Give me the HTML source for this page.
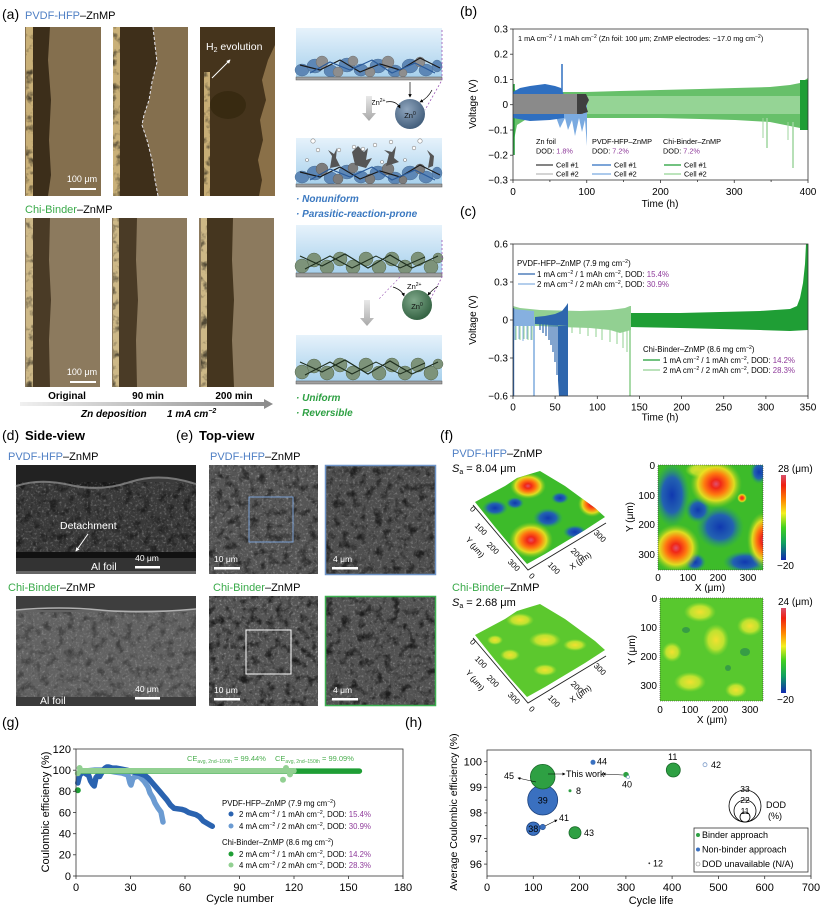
<!DOCTYPE html>
<html><head><meta charset="utf-8">
<style>
html,body{margin:0;padding:0;background:#fff;}
svg{display:block;font-family:"Liberation Sans",Arial,sans-serif;}
</style></head><body>
<svg width="831" height="919" viewBox="0 0 831 919" xmlns="http://www.w3.org/2000/svg">
<defs>
 <filter id="wsp" x="0" y="0" width="1" height="1" color-interpolation-filters="sRGB">
  <feTurbulence type="fractalNoise" baseFrequency="0.45" numOctaves="2" seed="4"/>
  <feColorMatrix type="matrix" values="0 0 0 0 1  0 0 0 0 1  0 0 0 0 1  2.6 0 0 0 -1.35"/>
 </filter>
 <filter id="bsp" x="0" y="0" width="1" height="1" color-interpolation-filters="sRGB">
  <feTurbulence type="fractalNoise" baseFrequency="0.12" numOctaves="3" seed="9"/>
  <feColorMatrix type="matrix" values="0 0 0 0 0  0 0 0 0 0  0 0 0 0 0  -3 0 0 0 1.55"/>
 </filter>
 <linearGradient id="sky" x1="0" y1="0" x2="0" y2="1"><stop offset="0" stop-color="#e6f2fb"/><stop offset="1" stop-color="#a6d0ec"/></linearGradient>
 <linearGradient id="garr" x1="0" y1="0" x2="1" y2="0"><stop offset="0" stop-color="#f0f0f0"/><stop offset="1" stop-color="#8a8a8a"/></linearGradient>
 <linearGradient id="varr" x1="0" y1="0" x2="0" y2="1"><stop offset="0" stop-color="#e8e8e8"/><stop offset="1" stop-color="#a8a8a8"/></linearGradient>
 <radialGradient id="zb" cx="0.4" cy="0.35" r="0.7"><stop offset="0" stop-color="#8fa5bd"/><stop offset="1" stop-color="#3e5a78"/></radialGradient>
 <radialGradient id="zg" cx="0.4" cy="0.35" r="0.7"><stop offset="0" stop-color="#7fa88a"/><stop offset="1" stop-color="#2f5e3e"/></radialGradient>
 <linearGradient id="cbar" x1="0" y1="0" x2="0" y2="1">
  <stop offset="0" stop-color="#d8506a"/><stop offset="0.12" stop-color="#f02010"/><stop offset="0.3" stop-color="#ff8a00"/><stop offset="0.45" stop-color="#f4f020"/><stop offset="0.62" stop-color="#40d020"/><stop offset="0.8" stop-color="#10a060"/><stop offset="1" stop-color="#1028b0"/>
 </linearGradient>
 <radialGradient id="hot"><stop offset="0" stop-color="#e05070"/><stop offset="0.18" stop-color="#f02818"/><stop offset="0.45" stop-color="#ff7a10"/><stop offset="0.7" stop-color="#f0e020" stop-opacity="0.9"/><stop offset="1" stop-color="#80d020" stop-opacity="0"/></radialGradient>
 <radialGradient id="cold"><stop offset="0" stop-color="#1038b0"/><stop offset="0.55" stop-color="#2058c0" stop-opacity="0.9"/><stop offset="1" stop-color="#20a070" stop-opacity="0"/></radialGradient>
 <radialGradient id="warm"><stop offset="0" stop-color="#f4e030"/><stop offset="0.6" stop-color="#d8e830" stop-opacity="0.8"/><stop offset="1" stop-color="#a0e030" stop-opacity="0"/></radialGradient>
 <clipPath id="hm1"><rect x="658" y="465" width="105" height="105"/></clipPath>
 <clipPath id="hm2"><rect x="660" y="598" width="103" height="103"/></clipPath>
 <clipPath id="s1"><polygon points="475,502 490,494 505,486 517,478 530,474 540,471 550,477 565,486 580,497 595,508 605,517 585,530 565,542 545,554 527,564 510,545 495,527 483,512"/></clipPath>
 <clipPath id="s2"><polygon points="475,635 490,627 505,619 517,611 530,607 540,604 550,610 565,619 580,630 595,641 605,650 585,663 565,675 545,687 527,697 510,678 495,660 483,645"/></clipPath>
 <marker id="ah" viewBox="0 0 6 6" refX="5" refY="3" markerWidth="5" markerHeight="5" orient="auto"><path d="M0,0 L6,3 L0,6Z" fill="#000"/></marker>
 <marker id="ahw" viewBox="0 0 6 6" refX="5" refY="3" markerWidth="4" markerHeight="4" orient="auto"><path d="M0,0 L6,3 L0,6Z" fill="#fff"/></marker>
</defs>

<!-- ================= (a) ================= -->
<text x="2" y="19" font-size="14">(a)</text>
<text x="25" y="19" font-size="11"><tspan fill="#4f7fc4">PVDF-HFP</tspan>–ZnMP</text>

<rect x="25" y="27" width="76" height="169" fill="#846f4e"/>
<path d="M32,27 L50,27 L48,60 L51,100 L49,140 L51,175 L48,196 L32,196Z" fill="#3c2e1a"/>
<rect x="26" y="27" width="7" height="169" fill="#c9b078"/>
<rect x="26" y="27" width="7" height="169" filter="url(#bsp)" opacity="0.6"/>
<text x="82" y="182" font-size="9" fill="#fff" text-anchor="middle">100 μm</text>
<rect x="70" y="188" width="26" height="2" fill="#fff"/>
<rect x="113" y="27" width="75" height="169" fill="#846f4e"/>
<path d="M119,27 L153,27 L155,45 L157,62 L152,82 L149,100 L144,115 L142,125 L147,140 L152,160 L155,180 L158,196 L119,196Z" fill="#3e2f1a"/>
<path d="M153,27 L155,45 L157,62 L152,82 L149,100 L144,115 L142,125 L147,140 L152,160 L155,180 L158,196" fill="none" stroke="#e8e8f0" stroke-width="1" stroke-dasharray="3,2"/>
<rect x="113" y="27" width="7" height="169" fill="#c9b078"/>
<rect x="113" y="27" width="7" height="169" filter="url(#bsp)" opacity="0.6"/>
<rect x="200" y="27" width="75" height="169" fill="#8a7048"/>
<path d="M200,27 L275,27 L275,45 L268,60 L262,80 L266,100 L260,120 L263,140 L258,160 L262,180 L259,196 L200,196Z" fill="#45341c"/>
<ellipse cx="228" cy="105" rx="18" ry="14" fill="#35280f" opacity="0.8"/>
<rect x="204" y="72" width="6" height="124" fill="#c8ae76"/>
<rect x="204" y="72" width="6" height="124" filter="url(#bsp)" opacity="0.6"/>
<text x="206" y="50" font-size="10.5" fill="#fff">H<tspan font-size="7" dy="2">2</tspan><tspan dy="-2"> evolution</tspan></text>
<line x1="212" y1="78" x2="230" y2="60" stroke="#fff" stroke-width="1" marker-end="url(#ahw)"/>

<text x="25" y="213" font-size="11"><tspan fill="#3aaa4a">Chi-Binder</tspan>–ZnMP</text>
<rect x="25" y="218" width="75" height="169" fill="#8c7a5e"/>
<path d="M32,218 L50,218 L49,260 L51,300 L49,340 L50,387 L32,387Z" fill="#4a3b26"/>
<rect x="26" y="218" width="7" height="169" fill="#cdb887"/>
<rect x="26" y="218" width="7" height="169" filter="url(#bsp)" opacity="0.6"/>
<text x="82" y="375" font-size="9" fill="#fff" text-anchor="middle">100 μm</text>
<rect x="70" y="381" width="26" height="2" fill="#fff"/>
<rect x="112" y="218" width="75" height="169" fill="#8c7a5e"/>
<path d="M118,218 L137,218 L136,260 L138,300 L136,340 L137,387 L118,387Z" fill="#4a3b26"/>
<rect x="113" y="218" width="6" height="169" fill="#cdb887"/>
<rect x="113" y="218" width="6" height="169" filter="url(#bsp)" opacity="0.6"/>
<rect x="199" y="218" width="75" height="169" fill="#8c7a5e"/>
<path d="M206,218 L233,218 L232,260 L234,300 L232,340 L234,387 L206,387Z" fill="#45361f"/>
<rect x="201" y="218" width="6" height="169" fill="#cdb887"/>
<rect x="201" y="218" width="6" height="169" filter="url(#bsp)" opacity="0.6"/>

<text x="67" y="399" font-size="10" font-weight="bold" text-anchor="middle">Original</text>
<text x="148" y="399" font-size="10" font-weight="bold" text-anchor="middle">90 min</text>
<text x="234" y="399" font-size="10" font-weight="bold" text-anchor="middle">200 min</text>
<polygon points="20,402 264,402 264,399 273,404 264,409 264,406 20,406" fill="url(#garr)"/>
<text x="81" y="417" font-size="10" font-weight="bold" font-style="italic">Zn deposition</text>
<text x="167" y="417" font-size="10" font-weight="bold" font-style="italic">1 mA cm<tspan font-size="7" dy="-4">−2</tspan></text>

<!-- schematic box1 -->
<rect x="296" y="28" width="146" height="50" fill="url(#sky)"/>
<g fill="#5d87b6" stroke="#46698f" stroke-width="0.4">
<ellipse cx="302" cy="70" rx="7" ry="6"/><ellipse cx="315" cy="66" rx="8" ry="7"/><ellipse cx="331" cy="71" rx="7" ry="6"/><ellipse cx="347" cy="65" rx="8" ry="7"/><ellipse cx="361" cy="70" rx="7" ry="6"/><ellipse cx="378" cy="66" rx="8" ry="7"/><ellipse cx="395" cy="71" rx="7" ry="6"/><ellipse cx="410" cy="66" rx="8" ry="7"/><ellipse cx="426" cy="70" rx="7" ry="6"/><ellipse cx="437" cy="66" rx="5" ry="6"/></g>
<g fill="#8e8e8e" stroke="#666" stroke-width="0.4">
<circle cx="322" cy="62" r="6"/><circle cx="338" cy="72" r="5"/><circle cx="353" cy="61" r="5"/><circle cx="370" cy="72" r="5"/><circle cx="388" cy="62" r="6"/><circle cx="403" cy="73" r="4"/><circle cx="420" cy="62" r="5"/></g>
<polyline points="300,65 320,70 340,60 360,72 380,64 400,70 420,58 440,68" fill="none" stroke="#1a1a1a" stroke-width="1.2"/>
<polyline points="310,73 330,62 350,70 372,60 392,73 415,63 435,73" fill="none" stroke="#2a5a9a" stroke-width="1.2"/>
<rect x="296" y="77" width="146" height="3" fill="#a0a0a0" stroke="#555" stroke-width="0.5"/>
<path d="M442,30 L442,80 L425,110" fill="none" stroke="#9b59b6" stroke-width="0.8" stroke-dasharray="2,2"/>
<circle cx="410" cy="114" r="15" fill="url(#zb)"/>
<text x="410" y="118" font-size="7.5" text-anchor="middle" fill="#111">Zn<tspan font-size="5" dy="-3">0</tspan></text>
<text x="371" y="105" font-size="7.5">Zn<tspan font-size="5" dy="-3">2+</tspan></text>
<path d="M386,102 Q396,100 400,108" fill="none" stroke="#000" stroke-width="0.7" marker-end="url(#ah)"/>
<line x1="410" y1="82" x2="410" y2="97" stroke="#000" stroke-width="0.7" marker-end="url(#ah)"/>
<path d="M432,90 Q428,98 420,102" fill="none" stroke="#000" stroke-width="0.7" marker-end="url(#ah)"/>
<polygon points="366,96 372,96 372,113 376,113 369,121 362,113 366,113" fill="url(#varr)"/>

<!-- box2 -->
<rect x="296" y="138" width="146" height="47" fill="url(#sky)"/>
<g fill="#5d87b6" stroke="#46698f" stroke-width="0.4">
<ellipse cx="302" cy="177" rx="7" ry="6"/><ellipse cx="315" cy="173" rx="8" ry="7"/><ellipse cx="331" cy="178" rx="7" ry="6"/><ellipse cx="347" cy="172" rx="8" ry="7"/><ellipse cx="361" cy="177" rx="7" ry="6"/><ellipse cx="378" cy="173" rx="8" ry="7"/><ellipse cx="395" cy="178" rx="7" ry="6"/><ellipse cx="410" cy="173" rx="8" ry="7"/><ellipse cx="426" cy="177" rx="7" ry="6"/><ellipse cx="437" cy="173" rx="5" ry="6"/></g>
<g fill="#7c7c7c" stroke="#555" stroke-width="0.4">
<circle cx="322" cy="169" r="6"/><circle cx="338" cy="179" r="5"/><circle cx="353" cy="168" r="5"/><circle cx="370" cy="179" r="5"/><circle cx="388" cy="169" r="6"/><circle cx="403" cy="180" r="4"/><circle cx="420" cy="169" r="5"/></g>
<g fill="#555">
<path d="M330,168 L332,156 L328,150 L334,154 L337,148 L336,158 L340,166Z"/>
<path d="M355,165 L352,152 L358,146 L364,152 L368,148 L366,160 L372,158 L366,168Z"/>
<path d="M386,166 L389,154 L384,150 L392,152 L396,146 L394,158 L399,162Z"/>
<path d="M428,168 L430,156 L427,150 L434,156 L433,166Z"/></g>
<polyline points="300,172 320,177 340,167 360,179 380,171 400,177 420,165 440,175" fill="none" stroke="#1a1a1a" stroke-width="1.2"/>
<polyline points="310,180 330,169 350,177 372,167 392,180 415,170 435,180" fill="none" stroke="#2a5a9a" stroke-width="1.2"/>
<g fill="#fff" stroke="#888" stroke-width="0.6">
<circle cx="313" cy="141" r="2.2"/><circle cx="318" cy="150" r="1.8"/><circle cx="339" cy="150" r="1.8"/><circle cx="354" cy="147" r="1.8"/><circle cx="363" cy="149" r="1.8"/><circle cx="375" cy="145" r="1.8"/><circle cx="391" cy="142" r="1.8"/><circle cx="420" cy="141" r="2.2"/><circle cx="414" cy="148" r="1.8"/><circle cx="307" cy="160" r="1.5"/><circle cx="382" cy="162" r="1.5"/><circle cx="405" cy="160" r="1.5"/></g>
<rect x="296" y="184" width="146" height="3" fill="#a0a0a0" stroke="#555" stroke-width="0.5"/>
<text x="296" y="202" font-size="10" font-weight="bold" font-style="italic" fill="#3a78c0">· Nonuniform</text>
<text x="296" y="217" font-size="10" font-weight="bold" font-style="italic" fill="#3a78c0">· Parasitic-reaction-prone</text>

<!-- box3 -->
<rect x="296" y="225" width="146" height="49" fill="url(#sky)"/>
<g fill="#7d937a" stroke="#56684f" stroke-width="0.5">
<circle cx="302" cy="266" r="7"/><circle cx="314" cy="260" r="7"/><circle cx="327" cy="267" r="7"/><circle cx="340" cy="259" r="7"/><circle cx="353" cy="267" r="7"/><circle cx="366" cy="259" r="7"/><circle cx="379" cy="267" r="7"/><circle cx="392" cy="259" r="7"/><circle cx="405" cy="267" r="7"/><circle cx="418" cy="259" r="7"/><circle cx="431" cy="267" r="7"/><circle cx="438" cy="258" r="5"/></g>
<polyline points="300,256 322,266 345,254 368,268 390,255 412,268 438,256" fill="none" stroke="#1e2e1e" stroke-width="1.2"/>
<polyline points="305,269 330,256 352,268 376,256 400,268 425,257" fill="none" stroke="#1e2e1e" stroke-width="1"/>
<rect x="296" y="273" width="146" height="4" fill="#a0a0a0" stroke="#555" stroke-width="0.5"/>
<path d="M442,240 L442,277 L430,300" fill="none" stroke="#9b59b6" stroke-width="0.8" stroke-dasharray="2,2"/>
<line x1="400" y1="277" x2="378" y2="300" stroke="#9b59b6" stroke-width="0.6" stroke-dasharray="2,2"/>
<circle cx="417" cy="305" r="15" fill="url(#zg)"/>
<text x="417" y="309" font-size="7.5" text-anchor="middle" fill="#111">Zn<tspan font-size="5" dy="-3">0</tspan></text>
<text x="407" y="289" font-size="7.5">Zn<tspan font-size="5" dy="-3">2+</tspan></text>
<path d="M393,287 Q402,290 404,296" fill="none" stroke="#000" stroke-width="0.7" marker-end="url(#ah)"/>
<path d="M438,286 Q432,290 428,295" fill="none" stroke="#000" stroke-width="0.7" marker-end="url(#ah)"/>
<polygon points="364,300 370,300 370,318 374,318 367,326 360,318 364,318" fill="url(#varr)"/>

<!-- box4 -->
<rect x="296" y="335" width="146" height="47" fill="url(#sky)"/>
<g fill="#7d937a" stroke="#56684f" stroke-width="0.5">
<circle cx="302" cy="372" r="7"/><circle cx="314" cy="366" r="7"/><circle cx="327" cy="373" r="7"/><circle cx="340" cy="365" r="7"/><circle cx="353" cy="373" r="7"/><circle cx="366" cy="365" r="7"/><circle cx="379" cy="373" r="7"/><circle cx="392" cy="365" r="7"/><circle cx="405" cy="373" r="7"/><circle cx="418" cy="365" r="7"/><circle cx="431" cy="373" r="7"/><circle cx="438" cy="364" r="5"/></g>
<polyline points="300,362 322,372 345,360 368,374 390,361 412,374 438,362" fill="none" stroke="#1e2e1e" stroke-width="1.2"/>
<polyline points="305,375 330,362 352,374 376,362 400,374 425,363" fill="none" stroke="#1e2e1e" stroke-width="1"/>
<rect x="296" y="381" width="146" height="3" fill="#a0a0a0" stroke="#555" stroke-width="0.5"/>
<text x="296" y="401" font-size="10" font-weight="bold" font-style="italic" fill="#2ea043">· Uniform</text>
<text x="296" y="416" font-size="10" font-weight="bold" font-style="italic" fill="#2ea043">· Reversible</text>

<!-- ================= (b) ================= -->
<text x="460" y="16" font-size="14">(b)</text>
<polygon points="513,84 515,90 520,92 530,92 586,92 620,91 660,90 700,89 735,88 770,87 790,85 800,83 808,78 808,130 800,128 790,126 770,122 735,120 700,119 660,118 620,118 586,118 540,118 525,120 517,125 514,140 513,150" fill="#67c06a"/>
<rect x="513" y="96" width="295" height="18" fill="#95d495"/>
<rect x="800" y="80" width="8" height="50" fill="#1f9e35"/>
<line x1="514" y1="84" x2="514" y2="155" stroke="#1f9e35" stroke-width="1.5"/>
<line x1="767" y1="118" x2="767" y2="148" stroke="#9fd69f" stroke-width="1.5"/>
<line x1="763" y1="118" x2="763" y2="138" stroke="#9fd69f" stroke-width="1"/>
<line x1="793" y1="122" x2="793" y2="168" stroke="#9fd69f" stroke-width="1.5"/>
<line x1="788" y1="122" x2="788" y2="140" stroke="#9fd69f" stroke-width="1"/>
<polygon points="513,96 587,96 587,146 585,120 582,132 579,118 575,136 572,120 568,130 565,118 560,128 556,117 540,118 513,118" fill="#7aaae0"/>
<polygon points="513,92 520,88 530,86 545,84 555,86 561,88 564,95 564,118 550,120 530,121 513,118" fill="#2f6fc0"/>
<line x1="562" y1="92" x2="562" y2="64" stroke="#2f6fc0" stroke-width="1.5"/>
<rect x="513" y="94" width="70" height="20" fill="#8a8a8a"/>
<polygon points="577,94 586,94 589,100 586,106 588,112 581,114 577,114" fill="#3f3f3f"/>
<rect x="513" y="29" width="295" height="151" fill="none" stroke="#333" stroke-width="0.8"/>
<g stroke="#333" stroke-width="0.8">
<line x1="510" y1="29" x2="513" y2="29"/><line x1="510" y1="54.2" x2="513" y2="54.2"/><line x1="510" y1="79.5" x2="513" y2="79.5"/><line x1="510" y1="104.7" x2="513" y2="104.7"/><line x1="510" y1="130" x2="513" y2="130"/><line x1="510" y1="155.2" x2="513" y2="155.2"/><line x1="510" y1="180" x2="513" y2="180"/>
<line x1="513" y1="180" x2="513" y2="183"/><line x1="586.75" y1="180" x2="586.75" y2="183"/><line x1="660.5" y1="180" x2="660.5" y2="183"/><line x1="734.25" y1="180" x2="734.25" y2="183"/><line x1="808" y1="180" x2="808" y2="183"/>
<line x1="549.9" y1="180" x2="549.9" y2="182"/><line x1="623.6" y1="180" x2="623.6" y2="182"/><line x1="697.4" y1="180" x2="697.4" y2="182"/><line x1="771.1" y1="180" x2="771.1" y2="182"/></g>
<g font-size="10" text-anchor="end">
<text x="508" y="32.5">0.3</text><text x="508" y="57.7">0.2</text><text x="508" y="83">0.1</text><text x="508" y="108.2">0</text><text x="508" y="133.5">−0.1</text><text x="508" y="158.7">−0.2</text><text x="508" y="183.5">−0.3</text></g>
<g font-size="10" text-anchor="middle">
<text x="513" y="195">0</text><text x="586.75" y="195">100</text><text x="660.5" y="195">200</text><text x="734.25" y="195">300</text><text x="808" y="195">400</text>
<text x="660" y="207">Time (h)</text></g>
<text transform="translate(476,104) rotate(-90)" font-size="10" text-anchor="middle">Voltage (V)</text>
<text x="518" y="41" font-size="7.3">1 mA cm<tspan font-size="5" dy="-3">−2</tspan><tspan dy="3"> / 1 mAh cm</tspan><tspan font-size="5" dy="-3">−2</tspan><tspan dy="3"> (Zn foil: 100 μm; ZnMP electrodes: ~17.0 mg cm</tspan><tspan font-size="5" dy="-3">−2</tspan><tspan dy="3">)</tspan></text>
<g font-size="7.3">
<text x="536" y="144">Zn foil</text><text x="536" y="153.5">DOD: <tspan fill="#8e3a9a">1.8%</tspan></text>
<text x="592" y="144">PVDF-HFP–ZnMP</text><text x="592" y="153.5">DOD: <tspan fill="#8e3a9a">7.2%</tspan></text>
<text x="663" y="144">Chi-Binder–ZnMP</text><text x="663" y="153.5">DOD: <tspan fill="#8e3a9a">7.2%</tspan></text>
<text x="556" y="167.5">Cell #1</text><text x="556" y="176.5">Cell #2</text>
<text x="614" y="167.5">Cell #1</text><text x="614" y="176.5">Cell #2</text>
<text x="684" y="167.5">Cell #1</text><text x="684" y="176.5">Cell #2</text></g>
<g stroke-width="1.3">
<line x1="536" y1="165" x2="553" y2="165" stroke="#3a3a3a"/><line x1="536" y1="174" x2="553" y2="174" stroke="#bbb"/>
<line x1="592" y1="165" x2="611" y2="165" stroke="#2f6fc0"/><line x1="592" y1="174" x2="611" y2="174" stroke="#7aaae0"/>
<line x1="664" y1="165" x2="681" y2="165" stroke="#1f9e35"/><line x1="664" y1="174" x2="681" y2="174" stroke="#95d495"/></g>

<!-- ================= (c) ================= -->
<text x="460" y="216" font-size="14">(c)</text>
<polygon points="513,306 520,308 540,310 580,311 610,310 625,308 630,306 631,306 631,330 620,333 610,330 590,328 560,327 540,326 513,326" fill="#92d092"/>
<g stroke="#92d092" stroke-width="1">
<line x1="572" y1="326" x2="572" y2="333"/><line x1="580" y1="326" x2="580" y2="334"/><line x1="588" y1="326" x2="588" y2="336"/><line x1="596" y1="326" x2="596" y2="337"/><line x1="602" y1="326" x2="602" y2="340"/><line x1="610" y1="326" x2="610" y2="342"/><line x1="617" y1="326" x2="617" y2="344"/><line x1="623" y1="326" x2="623" y2="348"/><line x1="627" y1="326" x2="627" y2="352"/>
<line x1="516" y1="326" x2="516" y2="340"/><line x1="520" y1="326" x2="520" y2="340"/><line x1="524" y1="326" x2="524" y2="339"/><line x1="528" y1="326" x2="528" y2="340"/><line x1="532" y1="326" x2="532" y2="340"/></g>
<line x1="630" y1="326" x2="630" y2="396" stroke="#92d092" stroke-width="1.6"/>
<polygon points="513,309 534,311 534,326 513,326" fill="#86b0e0"/>
<g stroke="#86b0e0" stroke-width="1">
<line x1="515" y1="326" x2="515" y2="340"/><line x1="519" y1="326" x2="519" y2="339"/><line x1="523" y1="326" x2="523" y2="341"/><line x1="527" y1="326" x2="527" y2="339"/><line x1="531" y1="326" x2="531" y2="340"/></g>
<line x1="534" y1="320" x2="534" y2="396" stroke="#86b0e0" stroke-width="1.6"/>
<polygon points="535,317 545,316 555,314 562,311 566,306 568,303 568,326 535,324" fill="#2e66ad"/>
<g stroke="#2e66ad" stroke-width="1.2">
<line x1="540" y1="322" x2="540" y2="330"/><line x1="543" y1="322" x2="543" y2="333"/><line x1="546" y1="322" x2="546" y2="336"/><line x1="549" y1="322" x2="549" y2="340"/><line x1="551" y1="322" x2="551" y2="345"/><line x1="553" y1="322" x2="553" y2="352"/><line x1="555" y1="322" x2="555" y2="362"/><line x1="557" y1="322" x2="557" y2="375"/></g>
<polygon points="558,326 568,326 568,396 559,396 558,380" fill="#2e66ad"/>
<line x1="513.6" y1="308" x2="513.6" y2="396" stroke="#2e66ad" stroke-width="1.2"/>
<polygon points="631,313 680,313 720,312 760,311 790,309 797,306 800,298 803,283 805,264 806,244 808,244 808,330 790,331 760,330 720,329 680,328 631,327" fill="#1f9e35"/>
<rect x="513" y="244" width="295" height="152" fill="none" stroke="#333" stroke-width="0.8"/>
<g stroke="#333" stroke-width="0.8">
<line x1="510" y1="244" x2="513" y2="244"/><line x1="510" y1="282" x2="513" y2="282"/><line x1="510" y1="320" x2="513" y2="320"/><line x1="510" y1="358" x2="513" y2="358"/><line x1="510" y1="396" x2="513" y2="396"/>
<line x1="513" y1="396" x2="513" y2="399"/><line x1="555.1" y1="396" x2="555.1" y2="399"/><line x1="597.3" y1="396" x2="597.3" y2="399"/><line x1="639.4" y1="396" x2="639.4" y2="399"/><line x1="681.6" y1="396" x2="681.6" y2="399"/><line x1="723.7" y1="396" x2="723.7" y2="399"/><line x1="765.9" y1="396" x2="765.9" y2="399"/><line x1="808" y1="396" x2="808" y2="399"/></g>
<g font-size="10" text-anchor="end">
<text x="508" y="247.5">0.6</text><text x="508" y="285.5">0.3</text><text x="508" y="323.5">0</text><text x="508" y="361.5">−0.3</text><text x="508" y="399.5">−0.6</text></g>
<g font-size="10" text-anchor="middle">
<text x="513" y="410.5">0</text><text x="555.1" y="410.5">50</text><text x="597.3" y="410.5">100</text><text x="639.4" y="410.5">150</text><text x="681.6" y="410.5">200</text><text x="723.7" y="410.5">250</text><text x="765.9" y="410.5">300</text><text x="808" y="410.5">350</text>
<text x="660" y="420.5">Time (h)</text></g>
<text transform="translate(476,320) rotate(-90)" font-size="10" text-anchor="middle">Voltage (V)</text>
<g font-size="7.8">
<text x="517" y="266">PVDF-HFP–ZnMP (7.9 mg cm<tspan font-size="5.2" dy="-3">−2</tspan><tspan dy="3">)</tspan></text>
<text x="537" y="277">1 mA cm<tspan font-size="5.2" dy="-3">−2</tspan><tspan dy="3"> / 1 mAh cm</tspan><tspan font-size="5.2" dy="-3">−2</tspan><tspan dy="3">, DOD: </tspan><tspan fill="#8e3a9a">15.4%</tspan></text>
<text x="537" y="287">2 mA cm<tspan font-size="5.2" dy="-3">−2</tspan><tspan dy="3"> / 2 mAh cm</tspan><tspan font-size="5.2" dy="-3">−2</tspan><tspan dy="3">, DOD: </tspan><tspan fill="#8e3a9a">30.9%</tspan></text>
<text x="643" y="352">Chi-Binder–ZnMP (8.6 mg cm<tspan font-size="5.2" dy="-3">−2</tspan><tspan dy="3">)</tspan></text>
<text x="663" y="363">1 mA cm<tspan font-size="5.2" dy="-3">−2</tspan><tspan dy="3"> / 1 mAh cm</tspan><tspan font-size="5.2" dy="-3">−2</tspan><tspan dy="3">, DOD: </tspan><tspan fill="#8e3a9a">14.2%</tspan></text>
<text x="663" y="373">2 mA cm<tspan font-size="5.2" dy="-3">−2</tspan><tspan dy="3"> / 2 mAh cm</tspan><tspan font-size="5.2" dy="-3">−2</tspan><tspan dy="3">, DOD: </tspan><tspan fill="#8e3a9a">28.3%</tspan></text></g>
<g stroke-width="1.3">
<line x1="518" y1="274" x2="535" y2="274" stroke="#2e66ad"/><line x1="518" y1="284" x2="535" y2="284" stroke="#86b0e0"/>
<line x1="643" y1="360" x2="660" y2="360" stroke="#1f9e35"/><line x1="643" y1="370" x2="660" y2="370" stroke="#92d092"/></g>

<!-- ================= (d) ================= -->
<text x="2" y="440" font-size="14">(d)</text>
<text x="25" y="440" font-size="13" font-weight="bold">Side-view</text>
<text x="8" y="460" font-size="11"><tspan fill="#4f7fc4">PVDF-HFP</tspan>–ZnMP</text>
<rect x="16" y="465" width="180" height="109" fill="#222"/>
<path d="M16,486 Q40,478 70,485 T130,482 T196,484 L196,552 L16,552Z" fill="#3a3a3a"/>
<rect x="16" y="482" width="180" height="70" filter="url(#wsp)" opacity="0.3"/>
<rect x="16" y="482" width="180" height="70" filter="url(#bsp)" opacity="0.5"/>
<path d="M16,486 Q40,478 70,485 T130,482 T196,484" fill="none" stroke="#8a8a8a" stroke-width="2" opacity="0.8"/>
<rect x="16" y="552" width="180" height="6" fill="#111"/>
<rect x="16" y="558" width="180" height="13" fill="#333"/>
<rect x="16" y="571" width="180" height="3" fill="#666"/>
<text x="60" y="529" font-size="10.5" fill="#fff">Detachment</text>
<line x1="88" y1="534" x2="76" y2="551" stroke="#fff" stroke-width="1" marker-end="url(#ahw)"/>
<text x="91" y="570" font-size="10.5" fill="#fff">Al foil</text>
<text x="147" y="561" font-size="8.5" fill="#fff" text-anchor="middle">40 μm</text>
<rect x="135" y="566" width="25" height="2.5" fill="#fff"/>

<text x="8" y="591" font-size="11"><tspan fill="#3aaa4a">Chi-Binder</tspan>–ZnMP</text>
<rect x="16" y="596" width="180" height="110" fill="#626262"/>
<rect x="16" y="596" width="180" height="14" fill="#3e3e3e"/>
<rect x="16" y="612" width="180" height="85" filter="url(#wsp)" opacity="0.25"/>
<rect x="16" y="612" width="180" height="85" filter="url(#bsp)" opacity="0.35"/>
<path d="M16,610 Q60,606 100,610 T196,609" fill="none" stroke="#b0b0b0" stroke-width="1.5"/>
<rect x="16" y="697" width="180" height="9" fill="#3b3b3b"/>
<text x="40" y="704" font-size="10.5" fill="#fff">Al foil</text>
<text x="147" y="692" font-size="8.5" fill="#fff" text-anchor="middle">40 μm</text>
<rect x="135" y="697" width="25" height="2.5" fill="#fff"/>

<!-- ================= (e) ================= -->
<text x="176" y="440" font-size="14">(e)</text>
<text x="199" y="440" font-size="13" font-weight="bold">Top-view</text>
<text x="210" y="460" font-size="11"><tspan fill="#4f7fc4">PVDF-HFP</tspan>–ZnMP</text>
<rect x="209" y="465" width="109" height="109" fill="#555"/>
<rect x="209" y="465" width="109" height="109" filter="url(#wsp)" opacity="0.35"/>
<rect x="209" y="465" width="109" height="109" filter="url(#bsp)" opacity="0.55"/>
<rect x="249" y="497" width="44" height="45" fill="none" stroke="#7aa0d4" stroke-width="1"/>
<text x="214" y="562" font-size="8.5" fill="#fff">10 μm</text>
<rect x="214" y="567" width="26" height="2.5" fill="#fff"/>
<rect x="325" y="465" width="111" height="110" fill="#4e4e4e"/>
<rect x="325" y="465" width="111" height="110" filter="url(#wsp)" opacity="0.3"/>
<rect x="325" y="465" width="111" height="110" filter="url(#bsp)" opacity="0.6"/>
<rect x="325.5" y="465.5" width="110" height="109" fill="none" stroke="#6e94c8" stroke-width="1.5"/>
<text x="333" y="562" font-size="8.5" fill="#fff">4 μm</text>
<rect x="332" y="567" width="26" height="2.5" fill="#fff"/>

<text x="213" y="591" font-size="11"><tspan fill="#3aaa4a">Chi-Binder</tspan>–ZnMP</text>
<rect x="209" y="596" width="109" height="110" fill="#555"/>
<rect x="209" y="596" width="109" height="110" filter="url(#wsp)" opacity="0.35"/>
<rect x="209" y="596" width="109" height="110" filter="url(#bsp)" opacity="0.65"/>
<rect x="246" y="630" width="45" height="44" fill="none" stroke="#fff" stroke-width="1"/>
<text x="214" y="693" font-size="8.5" fill="#fff">10 μm</text>
<rect x="214" y="698" width="26" height="2.5" fill="#fff"/>
<rect x="325" y="596" width="111" height="110" fill="#525252"/>
<rect x="325" y="596" width="111" height="110" filter="url(#wsp)" opacity="0.3"/>
<rect x="325" y="596" width="111" height="110" filter="url(#bsp)" opacity="0.65"/>
<rect x="325.5" y="596.5" width="110" height="109" fill="none" stroke="#3cb050" stroke-width="1.5"/>
<text x="333" y="693" font-size="8.5" fill="#fff">4 μm</text>
<rect x="332" y="698" width="26" height="2.5" fill="#fff"/>

<!-- ================= (f) ================= -->
<text x="440" y="440" font-size="14">(f)</text>
<text x="452" y="457" font-size="11"><tspan fill="#4f7fc4">PVDF-HFP</tspan>–ZnMP</text>
<text x="452" y="472" font-size="11"><tspan font-style="italic">S</tspan><tspan font-size="7" dy="2">a</tspan><tspan dy="-2"> = 8.04 μm</tspan></text>
<g clip-path="url(#s1)">
<rect x="470" y="465" width="140" height="105" fill="#3dbb2a"/>
<ellipse cx="495" cy="508" rx="13" ry="8" fill="url(#cold)"/><ellipse cx="548" cy="518" rx="15" ry="10" fill="url(#cold)"/><ellipse cx="575" cy="532" rx="12" ry="7" fill="url(#cold)"/><ellipse cx="515" cy="503" rx="9" ry="6" fill="url(#cold)"/><ellipse cx="560" cy="498" rx="9" ry="6" fill="url(#cold)"/>
<ellipse cx="528" cy="486" rx="18" ry="13" fill="url(#hot)"/><ellipse cx="531" cy="540" rx="22" ry="18" fill="url(#hot)"/><ellipse cx="592" cy="504" rx="14" ry="13" fill="url(#hot)"/>
</g>
<polyline points="473,505 528,570 606,523" fill="none" stroke="#222" stroke-width="0.9"/>
<g font-size="8" text-anchor="middle">
<text transform="translate(471,511) rotate(45)">0</text>
<text transform="translate(479,531) rotate(45)">100</text>
<text transform="translate(473,549) rotate(50)">Y (μm)</text>
<text transform="translate(491,550) rotate(45)">200</text>
<text transform="translate(512,567) rotate(45)">300</text>
<text transform="translate(530,578) rotate(45)">0</text>
<text transform="translate(552,570) rotate(45)">100</text>
<text transform="translate(575,556) rotate(45)">200</text>
<text transform="translate(598,538) rotate(45)">300</text>
<text transform="translate(582,563) rotate(-35)">X (μm)</text></g>

<g clip-path="url(#hm1)">
<rect x="658" y="465" width="105" height="105" fill="#3dbb2a"/>
<ellipse cx="672" cy="495" rx="18" ry="32" fill="url(#cold)"/><ellipse cx="720" cy="527" rx="24" ry="22" fill="url(#cold)"/><ellipse cx="698" cy="510" rx="13" ry="13" fill="url(#cold)"/><ellipse cx="759" cy="472" rx="9" ry="12" fill="url(#cold)"/><ellipse cx="745" cy="562" rx="22" ry="11" fill="url(#cold)"/><ellipse cx="695" cy="562" rx="11" ry="9" fill="url(#cold)"/>
<ellipse cx="700" cy="470" rx="15" ry="8" fill="url(#warm)"/>
<ellipse cx="716" cy="484" rx="26" ry="24" fill="url(#hot)"/><ellipse cx="676" cy="548" rx="24" ry="24" fill="url(#hot)"/><ellipse cx="764" cy="540" rx="17" ry="28" fill="url(#hot)"/><ellipse cx="742" cy="498" rx="5" ry="5" fill="url(#hot)"/>
</g>
<rect x="658" y="465" width="105" height="105" fill="none" stroke="#333" stroke-width="0.6" stroke-dasharray="1,1"/>
<g font-size="10" text-anchor="end">
<text x="655" y="469">0</text><text x="655" y="499">100</text><text x="655" y="528">200</text><text x="655" y="558">300</text></g>
<g font-size="10" text-anchor="middle">
<text x="658" y="581">0</text><text x="688" y="581">100</text><text x="718" y="581">200</text><text x="748" y="581">300</text>
<text x="710" y="591">X (μm)</text></g>
<text transform="translate(633,517) rotate(-90)" font-size="10" text-anchor="middle">Y (μm)</text>
<rect x="781" y="475" width="5" height="85" fill="url(#cbar)"/>
<text x="778" y="472" font-size="10">28 (μm)</text>
<text x="777" y="569" font-size="10">−20</text>

<text x="452" y="591" font-size="11"><tspan fill="#3aaa4a">Chi-Binder</tspan>–ZnMP</text>
<text x="452" y="606" font-size="11"><tspan font-style="italic">S</tspan><tspan font-size="7" dy="2">a</tspan><tspan dy="-2"> = 2.68 μm</tspan></text>
<g clip-path="url(#s2)">
<rect x="470" y="598" width="140" height="105" fill="#5cc82e"/>
<ellipse cx="520" cy="620" rx="14" ry="7" fill="url(#warm)"/><ellipse cx="545" cy="640" rx="16" ry="8" fill="url(#warm)"/><ellipse cx="575" cy="645" rx="12" ry="6" fill="url(#warm)"/><ellipse cx="510" cy="655" rx="10" ry="6" fill="url(#warm)"/><ellipse cx="545" cy="670" rx="12" ry="6" fill="url(#warm)"/><ellipse cx="495" cy="640" rx="8" ry="5" fill="url(#warm)"/>
</g>
<polyline points="473,638 528,703 606,656" fill="none" stroke="#222" stroke-width="0.9"/>
<g font-size="8" text-anchor="middle">
<text transform="translate(471,644) rotate(45)">0</text>
<text transform="translate(479,664) rotate(45)">100</text>
<text transform="translate(473,682) rotate(50)">Y (μm)</text>
<text transform="translate(491,683) rotate(45)">200</text>
<text transform="translate(512,700) rotate(45)">300</text>
<text transform="translate(530,711) rotate(45)">0</text>
<text transform="translate(552,703) rotate(45)">100</text>
<text transform="translate(575,689) rotate(45)">200</text>
<text transform="translate(598,671) rotate(45)">300</text>
<text transform="translate(582,696) rotate(-35)">X (μm)</text></g>
<g clip-path="url(#hm2)">
<rect x="660" y="598" width="103" height="103" fill="#58c82e"/>
<ellipse cx="700" cy="612" rx="16" ry="10" fill="url(#warm)"/><ellipse cx="716" cy="640" rx="13" ry="16" fill="url(#warm)"/><ellipse cx="750" cy="626" rx="13" ry="10" fill="url(#warm)"/><ellipse cx="690" cy="682" rx="16" ry="10" fill="url(#warm)"/><ellipse cx="736" cy="690" rx="11" ry="8" fill="url(#warm)"/><ellipse cx="672" cy="652" rx="10" ry="10" fill="url(#warm)"/>
<ellipse cx="745" cy="652" rx="5" ry="4" fill="#2a8a50" opacity="0.7"/><ellipse cx="686" cy="630" rx="4" ry="3" fill="#2a8a50" opacity="0.7"/><ellipse cx="728" cy="668" rx="3" ry="3" fill="#2a8a50" opacity="0.7"/>
</g>
<rect x="660" y="598" width="103" height="103" fill="none" stroke="#333" stroke-width="0.6" stroke-dasharray="1,1"/>
<g font-size="10" text-anchor="end">
<text x="657" y="602">0</text><text x="657" y="631">100</text><text x="657" y="660">200</text><text x="657" y="689">300</text></g>
<g font-size="10" text-anchor="middle">
<text x="660" y="713">0</text><text x="690" y="713">100</text><text x="720" y="713">200</text><text x="750" y="713">300</text>
<text x="712" y="723">X (μm)</text></g>
<text transform="translate(635,650) rotate(-90)" font-size="10" text-anchor="middle">Y (μm)</text>
<rect x="781" y="608" width="5" height="85" fill="url(#cbar)"/>
<text x="778" y="605" font-size="10">24 (μm)</text>
<text x="777" y="703" font-size="10">−20</text>

<!-- ================= (g) ================= -->
<text x="2" y="727" font-size="14">(g)</text>
<g fill="none" stroke-linecap="round" stroke-linejoin="round" stroke-width="5.5">
<polyline stroke="#6b9bd2" points="80,773 86,771 95,770 105,770 115,772 122,773 128,775 130,783 131,785 133,778 137,776 140,777 144,781 148,787 150,793 153,798 155,803 158,808 161,812 162,817 163,822"/>
<polyline stroke="#2a63b0" points="77.8,783 79.6,775.5 81.5,773.3 83.3,772.3 85.1,773.3 86.9,774.4 88.7,775.5 90.5,780.8 92.4,783.9 94.2,786 96,777.6 97.8,775.5 99.6,776.5 101.4,773.3 103.3,770.2 105.1,768.1 106.9,767 108.7,767 112.3,768.1 116,768.1 121.4,769.1 126.9,770.2 130.5,771.2 134.1,772.3 139.6,773.3 145,775.4 148.7,778.6 152.3,782.9 155.9,787.1 159.6,791.3 163.2,795.6 166.8,799.8 170.5,805.1 174.1,808.3 177.7,808.8 181.4,809.3 185,810.4 188.6,812.5 192.3,813.6 195.9,814.6 199.5,816.7 203.2,821 206.8,823.1 210.4,825.2 212.3,826.3"/>
<polyline stroke="#1f9e35" points="81.4,771.1 359.4,771.1"/>
<polyline stroke="#92d092" points="81.4,770.8 294,770.8"/>
</g>
<g fill="#92d092"><circle cx="79.6" cy="768" r="3"/><circle cx="283" cy="779.7" r="3"/><circle cx="290" cy="774.4" r="3"/><circle cx="286" cy="768" r="3"/><circle cx="77.8" cy="773.3" r="3"/></g>
<circle cx="77.8" cy="790.3" r="3" fill="#1f9e35"/>
<rect x="76" y="749" width="327" height="127" fill="none" stroke="#333" stroke-width="0.8"/>
<g stroke="#333" stroke-width="0.8">
<line x1="73" y1="749" x2="76" y2="749"/><line x1="73" y1="770.2" x2="76" y2="770.2"/><line x1="73" y1="791.3" x2="76" y2="791.3"/><line x1="73" y1="812.5" x2="76" y2="812.5"/><line x1="73" y1="833.7" x2="76" y2="833.7"/><line x1="73" y1="854.8" x2="76" y2="854.8"/><line x1="73" y1="876" x2="76" y2="876"/>
<line x1="76" y1="876" x2="76" y2="879"/><line x1="130.5" y1="876" x2="130.5" y2="879"/><line x1="185" y1="876" x2="185" y2="879"/><line x1="239.5" y1="876" x2="239.5" y2="879"/><line x1="294" y1="876" x2="294" y2="879"/><line x1="348.5" y1="876" x2="348.5" y2="879"/><line x1="403" y1="876" x2="403" y2="879"/></g>
<g font-size="11" text-anchor="end">
<text x="71" y="753">120</text><text x="71" y="774">100</text><text x="71" y="795">80</text><text x="71" y="816.5">60</text><text x="71" y="837.5">40</text><text x="71" y="858.5">20</text><text x="71" y="880">0</text></g>
<g font-size="11" text-anchor="middle">
<text x="76" y="891">0</text><text x="130.5" y="891">30</text><text x="185" y="891">60</text><text x="239.5" y="891">90</text><text x="294" y="891">120</text><text x="348.5" y="891">150</text><text x="403" y="891">180</text>
<text x="240" y="902">Cycle number</text></g>
<text transform="translate(49,812) rotate(-90)" font-size="11" text-anchor="middle">Coulombic efficiency (%)</text>
<g font-size="7.5" fill="#4caf50">
<text x="187" y="761">CE<tspan font-size="5" dy="2">avg, 2nd–100th</tspan><tspan dy="-2"> = 99.44%</tspan></text>
<text x="275" y="761">CE<tspan font-size="5" dy="2">avg, 2nd–150th</tspan><tspan dy="-2"> = 99.09%</tspan></text></g>
<g font-size="7.8">
<text x="222" y="806">PVDF-HFP–ZnMP (7.9 mg cm<tspan font-size="5.2" dy="-3">−2</tspan><tspan dy="3">)</tspan></text>
<text x="239" y="817">2 mA cm<tspan font-size="5.2" dy="-3">−2</tspan><tspan dy="3"> / 1 mAh cm</tspan><tspan font-size="5.2" dy="-3">−2</tspan><tspan dy="3">, DOD: </tspan><tspan fill="#8e3a9a">15.4%</tspan></text>
<text x="239" y="829">4 mA cm<tspan font-size="5.2" dy="-3">−2</tspan><tspan dy="3"> / 2 mAh cm</tspan><tspan font-size="5.2" dy="-3">−2</tspan><tspan dy="3">, DOD: </tspan><tspan fill="#8e3a9a">30.9%</tspan></text>
<text x="222" y="845">Chi-Binder–ZnMP (8.6 mg cm<tspan font-size="5.2" dy="-3">−2</tspan><tspan dy="3">)</tspan></text>
<text x="239" y="857">2 mA cm<tspan font-size="5.2" dy="-3">−2</tspan><tspan dy="3"> / 1 mAh cm</tspan><tspan font-size="5.2" dy="-3">−2</tspan><tspan dy="3">, DOD: </tspan><tspan fill="#8e3a9a">14.2%</tspan></text>
<text x="239" y="868">4 mA cm<tspan font-size="5.2" dy="-3">−2</tspan><tspan dy="3"> / 2 mAh cm</tspan><tspan font-size="5.2" dy="-3">−2</tspan><tspan dy="3">, DOD: </tspan><tspan fill="#8e3a9a">28.3%</tspan></text></g>
<circle cx="231" cy="814" r="2.5" fill="#2a63b0"/><circle cx="231" cy="826" r="2.5" fill="#6b9bd2"/>
<circle cx="231" cy="854" r="2.5" fill="#1f9e35"/><circle cx="231" cy="865" r="2.5" fill="#92d092"/>

<!-- ================= (h) ================= -->
<text x="405" y="727" font-size="14">(h)</text>
<rect x="487" y="750" width="324" height="126" fill="none" stroke="#333" stroke-width="0.8"/>
<g stroke="#333" stroke-width="0.8">
<line x1="484" y1="761.7" x2="487" y2="761.7"/><line x1="484" y1="787.3" x2="487" y2="787.3"/><line x1="484" y1="812.9" x2="487" y2="812.9"/><line x1="484" y1="838.5" x2="487" y2="838.5"/><line x1="484" y1="864.1" x2="487" y2="864.1"/>
<line x1="485" y1="774.5" x2="487" y2="774.5"/><line x1="485" y1="800.1" x2="487" y2="800.1"/><line x1="485" y1="825.7" x2="487" y2="825.7"/><line x1="485" y1="851.3" x2="487" y2="851.3"/>
<line x1="487" y1="876" x2="487" y2="879"/><line x1="533.3" y1="876" x2="533.3" y2="879"/><line x1="579.6" y1="876" x2="579.6" y2="879"/><line x1="625.9" y1="876" x2="625.9" y2="879"/><line x1="672.1" y1="876" x2="672.1" y2="879"/><line x1="718.4" y1="876" x2="718.4" y2="879"/><line x1="764.7" y1="876" x2="764.7" y2="879"/><line x1="811" y1="876" x2="811" y2="879"/></g>
<g font-size="11" text-anchor="end">
<text x="482" y="765.5">100</text><text x="482" y="791">99</text><text x="482" y="816.7">98</text><text x="482" y="842.3">97</text><text x="482" y="868">96</text></g>
<g font-size="11" text-anchor="middle">
<text x="487" y="891">0</text><text x="533.3" y="891">100</text><text x="579.6" y="891">200</text><text x="625.9" y="891">300</text><text x="672.1" y="891">400</text><text x="718.4" y="891">500</text><text x="764.7" y="891">600</text><text x="811" y="891">700</text>
<text x="651" y="904">Cycle life</text></g>
<text transform="translate(457,812) rotate(-90)" font-size="10.5" text-anchor="middle">Average Coulombic efficiency (%)</text>
<circle cx="542.7" cy="800" r="15" fill="#3a70c0" stroke="#1a3f7a" stroke-width="0.8"/>
<circle cx="542.7" cy="776.7" r="12.3" fill="#2ea043" stroke="#1a6a2a" stroke-width="0.8"/>
<circle cx="533.3" cy="828.7" r="6.7" fill="#3a70c0" stroke="#1a3f7a" stroke-width="0.8"/>
<circle cx="542.7" cy="827" r="2.8" fill="#3a70c0" stroke="#1a3f7a" stroke-width="0.5"/>
<circle cx="575" cy="832.7" r="6" fill="#2ea043" stroke="#1a6a2a" stroke-width="0.8"/>
<circle cx="570" cy="790.7" r="1.5" fill="#2ea043"/>
<circle cx="593" cy="762.3" r="2.5" fill="#3a70c0"/>
<circle cx="626" cy="774.7" r="2.8" fill="#2ea043"/>
<circle cx="628" cy="777" r="1.5" fill="#fff" stroke="#7a9ac8" stroke-width="0.6"/>
<circle cx="673.3" cy="770" r="7" fill="#2ea043" stroke="#1a6a2a" stroke-width="0.8"/>
<circle cx="705" cy="764.7" r="2" fill="#fff" stroke="#7a9ac8" stroke-width="0.8"/>
<circle cx="649.3" cy="863.3" r="0.9" fill="#333"/>
<g font-size="9">
<text x="597" y="764.5">44</text><text x="668" y="760">11</text><text x="711" y="768">42</text>
<text x="504" y="779">45</text><text x="566" y="777">This work</text><text x="622" y="787.5">40</text>
<text x="576" y="794">8</text><text x="542.7" y="803.5" text-anchor="middle">39</text>
<text x="559" y="821">41</text><text x="533.3" y="832" text-anchor="middle">38</text><text x="584" y="836">43</text><text x="653" y="866.5">12</text></g>
<g stroke="#000" stroke-width="0.6" fill="none">
<line x1="536" y1="782" x2="518" y2="778" marker-end="url(#ah)"/>
<line x1="548" y1="774" x2="565" y2="774" marker-end="url(#ah)"/>
<line x1="623" y1="775" x2="603" y2="774" marker-end="url(#ah)"/>
<line x1="545" y1="826" x2="557" y2="820" marker-end="url(#ah)"/></g>
<g fill="none" stroke="#000" stroke-width="0.8">
<circle cx="745" cy="806" r="16"/><circle cx="745" cy="811" r="11"/><circle cx="745" cy="817" r="5"/></g>
<g font-size="8.5" text-anchor="middle">
<text x="745" y="792">33</text><text x="745" y="803">22</text><text x="745" y="814">11</text></g>
<text x="766" y="808" font-size="9">DOD</text>
<text x="768" y="819" font-size="9">(%)</text>
<rect x="694" y="828" width="114" height="44" fill="#fff" stroke="#333" stroke-width="0.8"/>
<circle cx="698" cy="835" r="2" fill="#2ea043"/><circle cx="698" cy="849.5" r="2" fill="#3a70c0"/><circle cx="698" cy="864" r="2" fill="#fff" stroke="#888" stroke-width="0.6"/>
<g font-size="9">
<text x="702" y="838">Binder approach</text><text x="702" y="852.5">Non-binder approach</text><text x="702" y="867">DOD unavailable (N/A)</text></g>
</svg>
</body></html>
